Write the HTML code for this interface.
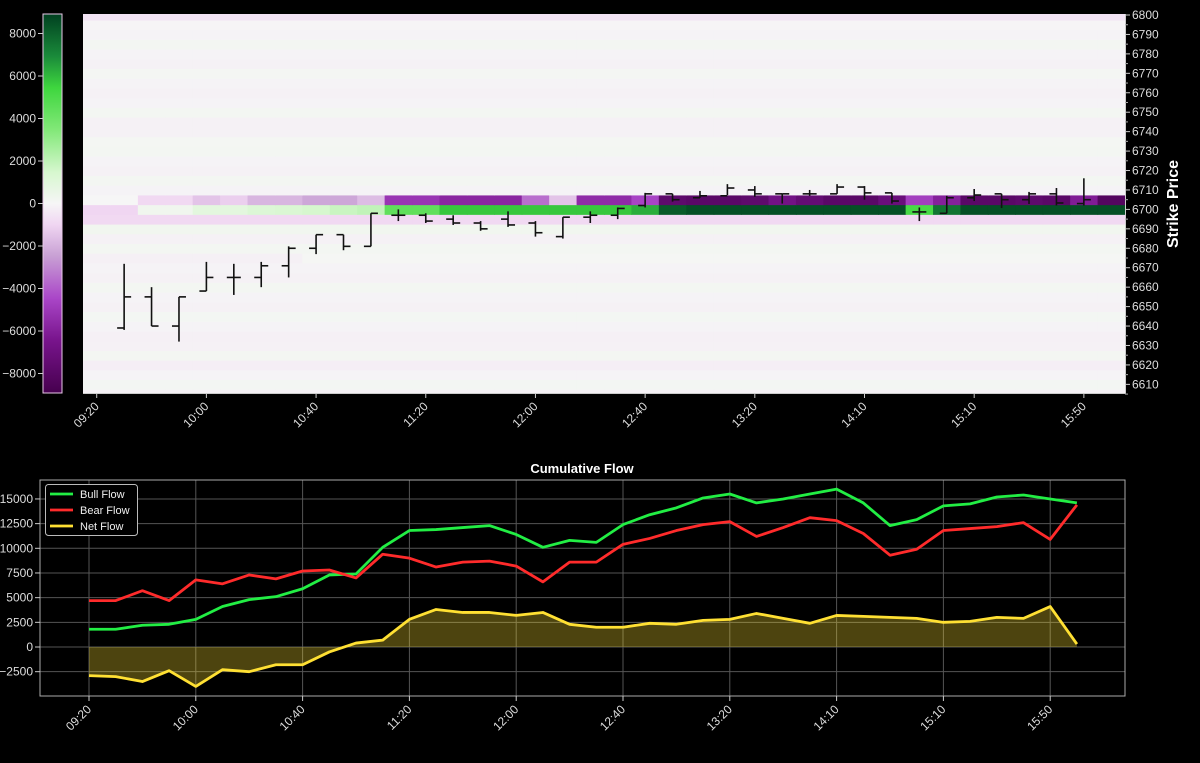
<!DOCTYPE html>
<html><head><meta charset="utf-8">
<style>
html,body{margin:0;padding:0;background:#000;}
svg{display:block;font-family:"Liberation Sans","DejaVu Sans",sans-serif;}
</style></head>
<body>
<svg id="chart" width="1200" height="763" viewBox="0 0 1200 763">
<defs>
<clipPath id="hmclip"><rect x="83" y="14" width="1042" height="379"/></clipPath>
<linearGradient id="cbgrad" x1="0" y1="1" x2="0" y2="0"></linearGradient>
</defs>
<rect x="0" y="0" width="1200" height="763" fill="#000"/>
<g id="topPanel"></g>
<g id="bottomPanel"></g>
</svg>
<script>
// ---------- DATA ----------
const times = ["09:20","09:30","09:40","09:50","10:00","10:10","10:20","10:30","10:40","10:50","11:00","11:10","11:20","11:30","11:40","11:50","12:00","12:10","12:20","12:30","12:40","12:50","13:00","13:10","13:20","13:30","13:40","13:50","14:10","14:20","14:30","14:40","15:10","15:20","15:30","15:40","15:50","16:00"];
const tickIdx = [0,4,8,12,16,20,24,28,32,36];
const strikes = [];
for (let s = 6605; s <= 6800; s += 5) strikes.push(s);
// faint per-row background flow (bottom 6605 -> top 6800)
const rowBase = [-150,120,-100,-250,150,-150,-200,-100,120,-150,-100,150,-150,-100,60,150,-150,250,-900,200,150,-100,150,-150,-100,150,100,-150,-150,150,-100,-150,-100,100,-150,-100,150,-100,-50,-600];
const row6705 = [0,0,-900,-900,-1500,-1200,-1900,-1900,-2300,-2300,-1700,-5200,-5200,-5800,-5800,-5800,-3600,-1500,-5600,-5600,-4600,-7800,-8000,-8000,-7800,-6800,-7500,-8000,-8000,-7200,-4800,-6000,-8000,-8000,-7800,-8000,-6200,-8300];
const row6700 = [-1000,-1000,300,300,900,900,1200,1300,1500,1800,2000,4500,4500,5800,5800,5800,5800,5800,5800,5800,6300,8300,8600,8600,8600,8600,8600,8600,8600,8600,5200,7600,8600,8600,8600,8600,8600,8600];
const ohlcIdx  = [1,2,3,4,5,6,7,8,9,10,11,12,13,14,15,16,17,18,19,20,21,22,23,24,25,26,27,28,29,30,31,32,33,34,35,36];
const ohlcOpen = [6639,6655,6640,6658,6665,6665,6671,6680,6687,6681,6697,6697,6695,6693,6695,6693,6686,6696,6697,6702,6708,6706,6707,6710,6708,6708,6708,6711.5,6708.5,6698.7,6698,6706,6708,6705,6708,6703];
const ohlcHigh = [6672,6660,6655,6673,6672,6673,6681,6687,6687,6698,6700,6698,6697,6694,6699,6694,6696,6699,6701,6708.5,6708,6709.5,6713,6712,6708,6710,6713,6712,6708.5,6701,6707,6710.5,6708,6709,6711,6716];
const ohlcLow  = [6638,6640,6632,6658,6656,6660,6665,6677,6679,6681,6694,6693,6692,6689,6691,6686,6685,6693,6695,6701,6704,6706,6707.4,6706.5,6703,6707,6708,6705,6703,6694,6698,6704.3,6700.7,6702.8,6702,6702];
const ohlcClose= [6655,6640,6655,6665,6665,6671,6680,6687,6681,6698,6697,6694,6693,6690,6692,6688,6696,6697,6700.5,6708,6705,6707,6711,6708,6708,6708,6711.5,6708.5,6704.3,6698.7,6706,6707.4,6705,6708,6703.3,6705];
const cbTicks = [-8000,-6000,-4000,-2000,0,2000,4000,6000,8000];
const strikeTicks = [6610,6620,6630,6640,6650,6660,6670,6680,6690,6700,6710,6720,6730,6740,6750,6760,6770,6780,6790,6800];

const bull = [1800,1800,2200,2300,2800,4100,4800,5100,5900,7300,7400,10100,11800,11900,12100,12300,11400,10100,10800,10600,12400,13400,14100,15100,15500,14600,15000,15500,16000,14600,12300,12900,14300,14500,15200,15400,15000,14600];
const bear = [4700,4700,5700,4700,6800,6400,7300,6900,7700,7800,7000,9400,9000,8100,8600,8700,8200,6600,8600,8600,10400,11000,11800,12400,12700,11200,12100,13100,12800,11500,9300,9900,11800,12000,12200,12600,10900,14400];
const net  = [-2900,-3000,-3500,-2400,-4000,-2300,-2500,-1800,-1800,-500,400,700,2800,3800,3500,3500,3200,3500,2300,2000,2000,2400,2300,2700,2800,3400,2900,2400,3200,3100,3000,2900,2500,2600,3000,2900,4100,300];
const flowTicks = [-2500,0,2500,5000,7500,10000,12500,15000];

// ---------- HELPERS ----------
const NS = "http://www.w3.org/2000/svg";
function mk(tag, attrs, parent) {
  const e = document.createElementNS(NS, tag);
  for (const k in attrs) e.setAttribute(k, attrs[k]);
  if (parent) parent.appendChild(e);
  return e;
}
const stops = [[-9000,[70,0,78]],[-6500,[120,20,140]],[-4500,[170,70,200]],[-2500,[200,160,212]],[-1000,[240,214,242]],[0,[246,246,246]],[1500,[214,247,206]],[3500,[130,232,120]],[5500,[62,214,62]],[7000,[26,138,58]],[9000,[0,64,32]]];
function cmap(v) {
  v = Math.max(-9000, Math.min(9000, v));
  for (let i = 0; i < stops.length - 1; i++) {
    const a = stops[i], b = stops[i+1];
    if (v <= b[0]) {
      const t = (v - a[0]) / (b[0] - a[0]);
      const c = a[1].map((x, j) => Math.round(x + (b[1][j] - x) * t));
      return `rgb(${c[0]},${c[1]},${c[2]})`;
    }
  }
  return "rgb(0,64,32)";
}

// ---------- TOP HEATMAP ----------
const topG = document.getElementById("topPanel");
const colW = 1042 / times.length;
const hx = i => 83 + i * colW;
const hy = p => 15 + (6800 - p) * 1.944;
const cy = v => 203.5 - v * (170 / 8000);

const cells = mk("g", {"clip-path": "url(#hmclip)"}, topG);


strikes.forEach((s, r) => {
  for (let c = 0; c < times.length; c++) {
    let v = rowBase[r];
    if (s === 6705) v = row6705[c];
    else if (s === 6700) v = row6700[c];
    else if (s === 6675 && c < 8) v = -200;
    const rc = mk("rect", {x: hx(c), y: hy(s + 2.5), width: colW + 0.6, height: hy(s - 2.5) - hy(s + 2.5) + 0.6, fill: cmap(v)}, cells);
    
    
  }
});

// OHLC bars
const bars = mk("g", {stroke: "#111", "stroke-width": 1.6, fill: "none"}, topG);


ohlcIdx.forEach((ci, k) => {
  const x = hx(ci) + colW / 2;
  const g = mk("g", {}, bars);
  
  
  mk("line", {x1: x, x2: x, y1: hy(ohlcHigh[k]), y2: hy(ohlcLow[k])}, g);
  mk("line", {x1: x - 7, x2: x, y1: hy(ohlcOpen[k]), y2: hy(ohlcOpen[k])}, g);
  mk("line", {x1: x, x2: x + 7, y1: hy(ohlcClose[k]), y2: hy(ohlcClose[k])}, g);
});

// heatmap spines + x ticks
const hAxis = mk("g", {}, topG);


mk("line", {x1: 83, x2: 1125, y1: 393.5, y2: 393.5, stroke: "#ccc", "stroke-width": 1}, hAxis);
mk("line", {x1: 1125.5, x2: 1125.5, y1: 14, y2: 393.5, stroke: "#ccc", "stroke-width": 1}, hAxis);
tickIdx.forEach(ti => {
  const x = hx(ti) + colW / 2;
  mk("line", {x1: x, x2: x, y1: 393, y2: 398, stroke: "#ccc"}, hAxis);
  const t = mk("text", {x: x + 3, y: 407, fill: "#ddd", "font-size": 12, "text-anchor": "end", transform: `rotate(-45 ${x + 3} 407)`}, hAxis);
  t.textContent = times[ti];
  
  
});
// right strike axis
const sAxis = mk("g", {}, topG);


strikeTicks.forEach(s => {
  const y = hy(s);
  mk("line", {x1: 1125, x2: 1130, y1: y, y2: y, stroke: "#ccc"}, sAxis);
  const t = mk("text", {x: 1132, y: y + 4, fill: "#ddd", "font-size": 12}, sAxis);
  t.textContent = s;
  
  
});
for (let s = 6605; s <= 6800; s += 5) {
  if (s % 10) mk("line", {x1: 1125, x2: 1128, y1: hy(s), y2: hy(s), stroke: "#aaa"}, sAxis);
}
const sTitle = mk("text", {x: 1178, y: 204, fill: "#fff", "font-size": 16, "font-weight": "bold", "text-anchor": "middle", transform: "rotate(-90 1178 204)"}, sAxis);
sTitle.textContent = "Strike Price";



// colorbar
const cb = mk("g", {}, topG);


const grad = document.getElementById("cbgrad");
stops.forEach(s => {
  mk("stop", {offset: ((s[0] + 9000) / 18000 * 100) + "%", "stop-color": `rgb(${s[1].join(",")})`}, grad);
});
mk("rect", {x: 43, y: 14, width: 19, height: 379, fill: "url(#cbgrad)", stroke: "#e8c8e8", "stroke-width": 1}, cb);
cbTicks.forEach(v => {
  const y = cy(v);
  mk("line", {x1: 38, x2: 43, y1: y, y2: y, stroke: "#ccc"}, cb);
  const t = mk("text", {x: 36, y: y + 4, fill: "#ddd", "font-size": 12, "text-anchor": "end"}, cb);
  t.textContent = v === 0 ? "0" : (v < 0 ? "\u2212" + (-v) : v);
  
  
});

// ---------- BOTTOM LINE CHART ----------
const botG = document.getElementById("bottomPanel");
const bx = i => 89 + i * 26.7;
const by = v => 647 - v * 0.00987;
const grid = mk("g", {stroke: "#555", "stroke-width": 1}, botG);


flowTicks.forEach(v => mk("line", {x1: 40, x2: 1125, y1: by(v), y2: by(v)}, grid));
tickIdx.forEach(i => mk("line", {x1: bx(i), x2: bx(i), y1: 480, y2: 696}, grid));
mk("rect", {x: 40, y: 480, width: 1085, height: 216, fill: "none", stroke: "#aaa", "stroke-width": 1}, botG);

// net fill
let fd = `M${bx(0)},${by(0)} `;
net.forEach((v, i) => fd += `L${bx(i)},${by(v)} `);
fd += `L${bx(net.length - 1)},${by(0)} Z`;
const fillP = mk("path", {d: fd, fill: "#ffe033", "fill-opacity": 0.3}, botG);



function line(arr, color, name) {
  const d = arr.map((v, i) => (i ? "L" : "M") + bx(i) + "," + by(v)).join(" ");
  const p = mk("path", {d: d, fill: "none", stroke: color, "stroke-width": 2.8, "stroke-linejoin": "round"}, botG);
  
  
}
line(bull, "#22ee44", "bull-flow-line");
line(bear, "#ff2b2b", "bear-flow-line");
line(net, "#ffe033", "net-flow-line");

// axes labels
const bAxis = mk("g", {}, botG);


flowTicks.forEach(v => {
  const y = by(v);
  mk("line", {x1: 35, x2: 40, y1: y, y2: y, stroke: "#ccc"}, bAxis);
  const t = mk("text", {x: 33, y: y + 4, fill: "#ddd", "font-size": 12, "text-anchor": "end"}, bAxis);
  t.textContent = v < 0 ? "\u2212" + (-v) : v;
  
  
});
tickIdx.forEach(i => {
  const x = bx(i);
  mk("line", {x1: x, x2: x, y1: 696, y2: 701, stroke: "#ccc"}, bAxis);
  const t = mk("text", {x: x + 3, y: 710, fill: "#ddd", "font-size": 12, "text-anchor": "end", transform: `rotate(-45 ${x + 3} 710)`}, bAxis);
  t.textContent = times[i];
  
  
});
const title = mk("text", {x: 582, y: 473, fill: "#fff", "font-size": 13, "font-weight": "bold", "text-anchor": "middle"}, botG);
title.textContent = "Cumulative Flow";



// legend
const lg = mk("g", {}, botG);


mk("rect", {x: 45.5, y: 484.5, width: 92, height: 51, rx: 3, fill: "#000", stroke: "#bbb", "stroke-width": 1}, lg);
[["Bull Flow", "#22ee44", 494], ["Bear Flow", "#ff2b2b", 510], ["Net Flow", "#ffe033", 526]].forEach(e => {
  const g = mk("g", {}, lg);
  
  
  mk("line", {x1: 50, x2: 73, y1: e[2], y2: e[2], stroke: e[1], "stroke-width": 2.8}, g);
  const t = mk("text", {x: 80, y: e[2] + 4, fill: "#eee", "font-size": 11}, g);
  t.textContent = e[0];
});
</script>
</body></html>
